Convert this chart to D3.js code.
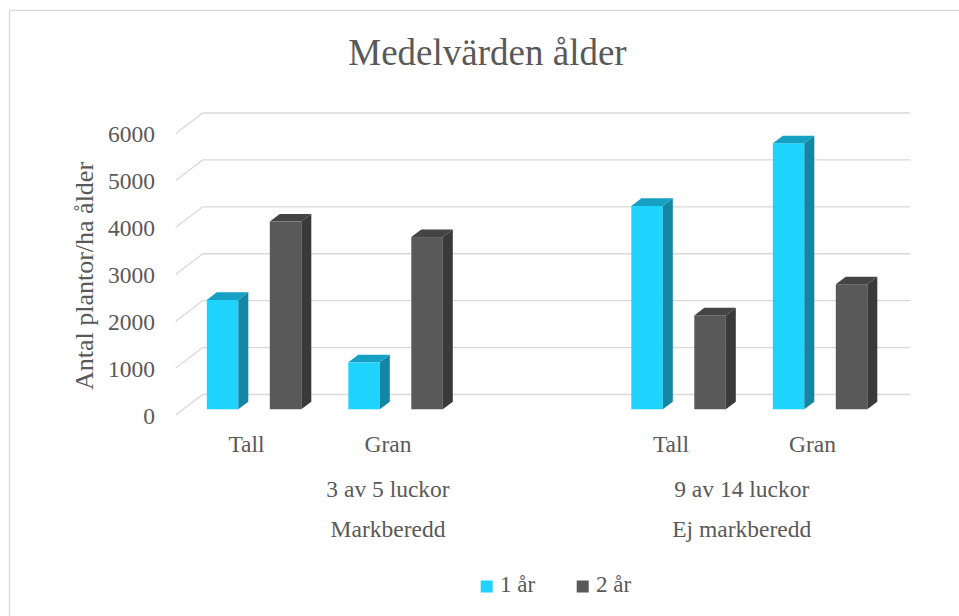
<!DOCTYPE html>
<html>
<head>
<meta charset="utf-8">
<script src="https://cdn.jsdelivr.net/npm/d3@7"></script>
<style>
  body { margin: 0; background: #fff; }
  text { font-family: "Liberation Serif", "Times New Roman", serif; fill: #595959; }
</style>
</head>
<body>
<svg id="chart"></svg>
<script>
// data
var categories = ["Tall", "Gran", "", "Tall", "Gran"]
var luckor = ["3 av 5 luckor", "3 av 5 luckor", "3 av 5 luckor", "9 av 14 luckor", "9 av 14 luckor"]
var treatment = ["Markberedd", "Markberedd", "Markberedd", "Ej markberedd", "Ej markberedd"]
var series = ["1 år", "2 år"]
var values1 = [2330, 1000, null, 4335, 5670]
var values2 = [4000, 3670, null, 2000, 2665]
var yTicks = [0, 1000, 2000, 3000, 4000, 5000, 6000]

var dimensions = { width: 959, height: 616 }
var depth = { dx: 27, dy: -20.5 }   // floor depth (oblique 3d)
var barStart = 0.28, barDepth = 0.37

var colors = {
    "1 år": { front: "#1ED4FF", side: "#1286A3", top: "#16A0C4" },
    "2 år": { front: "#595959", side: "#3A3A3A", top: "#444444" }
}

var svg = d3.select("#chart")
            .attr("width", dimensions.width)
            .attr("height", dimensions.height)

svg.append("rect")
   .attr("x", 9.5).attr("y", 10.5)
   .attr("width", 960).attr("height", 620)
   .style("fill", "#fff").style("stroke", "#D9D9D9").style("stroke-width", 1.3)

var xScale = d3.scaleBand()
               .domain(d3.range(categories.length))
               .range([175.75, 883.25])

var xInner = d3.scaleBand()
               .domain(series)
               .range([23.5, xScale.bandwidth() - 23.5])
               .paddingInner(0.5)

var yScale = d3.scaleLinear()
               .domain([0, 6000])
               .range([415, 133.5])

// gridlines: slanted side wall edge + back wall line
svg.append("g")
   .selectAll("path")
   .data(yTicks)
   .join("path")
   .attr("d", d => {
       var x0 = xScale.range()[0], y0 = yScale(d)
       return "M" + x0 + "," + y0 +
              "L" + (x0 + depth.dx) + "," + (y0 + depth.dy) +
              "L" + (xScale.range()[1] + depth.dx) + "," + (y0 + depth.dy)
   })
   .style("fill", "none")
   .style("stroke", "#D9D9D9")
   .style("stroke-width", 1.3)

// y axis labels
var yAxis = svg.append("g")
               .attr("transform", "translate(155,0)")
               .call(d3.axisLeft(yScale).tickValues(yTicks).tickFormat(d3.format("d")).tickSize(0).tickPadding(0))
yAxis.select(".domain").remove()
yAxis.selectAll("text")
     .attr("dy", "0.36em")
     .style("font-size", "23.5px")
     .style("font-family", "'Liberation Serif', 'Times New Roman', serif")
     .style("fill", "#595959")

// bars
var bars = []
categories.forEach((c, i) => {
    [values1[i], values2[i]].forEach((v, j) => {
        if (v != null) bars.push({ i: i, s: series[j], v: v })
    })
})

var bdx = depth.dx * barDepth, bdy = depth.dy * barDepth
var barG = svg.append("g").selectAll("g").data(bars).join("g")

function geom(d) {
    var x0 = xScale(d.i) + xInner(d.s) + depth.dx * barStart
    var w = xInner.bandwidth()
    var yb = yScale(0) + depth.dy * barStart
    var yt = yScale(d.v) + depth.dy * barStart
    return { x0: x0, w: w, yb: yb, yt: yt }
}

barG.append("rect")
    .attr("x", d => geom(d).x0)
    .attr("y", d => geom(d).yt)
    .attr("width", d => geom(d).w)
    .attr("height", d => geom(d).yb - geom(d).yt)
    .style("fill", d => colors[d.s].front)

barG.append("path")
    .attr("d", d => {
        var g = geom(d), xr = g.x0 + g.w
        return "M" + xr + "," + g.yb + "L" + (xr + bdx) + "," + (g.yb + bdy) +
               "L" + (xr + bdx) + "," + (g.yt + bdy) + "L" + xr + "," + g.yt + "Z"
    })
    .style("fill", d => colors[d.s].side)

barG.append("path")
    .attr("d", d => {
        var g = geom(d)
        return "M" + g.x0 + "," + g.yt + "L" + (g.x0 + bdx) + "," + (g.yt + bdy) +
               "L" + (g.x0 + g.w + bdx) + "," + (g.yt + bdy) + "L" + (g.x0 + g.w) + "," + g.yt + "Z"
    })
    .style("fill", d => colors[d.s].top)

// category labels
var xAxis = svg.append("g")
               .attr("transform", "translate(0," + yScale(0) + ")")
               .call(d3.axisBottom(xScale).tickSize(0).tickPadding(20).tickFormat(i => categories[i]))
xAxis.select(".domain").remove()
xAxis.selectAll("text")
     .style("font-size", "23.5px")
     .style("font-family", "'Liberation Serif', 'Times New Roman', serif")
     .style("fill", "#595959")

// multi-level group labels
function groupLabels(arr, baseline) {
    var groups = d3.groups(d3.range(arr.length), i => arr[i])
    svg.append("g")
       .selectAll("text")
       .data(groups)
       .join("text")
       .attr("x", g => (xScale(g[1][0]) + xScale(g[1][g[1].length - 1]) + xScale.bandwidth()) / 2)
       .attr("y", baseline)
       .attr("text-anchor", "middle")
       .style("font-size", "23.5px")
       .text(g => g[0])
}
groupLabels(luckor, 496.7)
groupLabels(treatment, 536.7)

// y axis title
svg.append("text")
   .attr("transform", "translate(93," + 276 + ") rotate(-90)")
   .attr("text-anchor", "middle")
   .style("font-size", "26px")
   .text("Antal plantor/ha ålder")

// title
svg.append("text")
   .attr("x", 487.5)
   .attr("y", 65)
   .attr("text-anchor", "middle")
   .style("font-size", "37px")
   .text("Medelvärden ålder")

// legend
var legend = svg.append("g")
                .selectAll("g")
                .data(series)
                .join("g")
                .attr("transform", (d, i) => "translate(" + (480.7 + i * 96) + ",580.5)")
legend.append("rect")
      .attr("width", 12).attr("height", 12)
      .style("fill", d => colors[d].front)
legend.append("text")
      .attr("x", 19.3)
      .attr("y", 11.8)
      .style("font-size", "23px")
      .text(d => d)
</script>
</body>
</html>
